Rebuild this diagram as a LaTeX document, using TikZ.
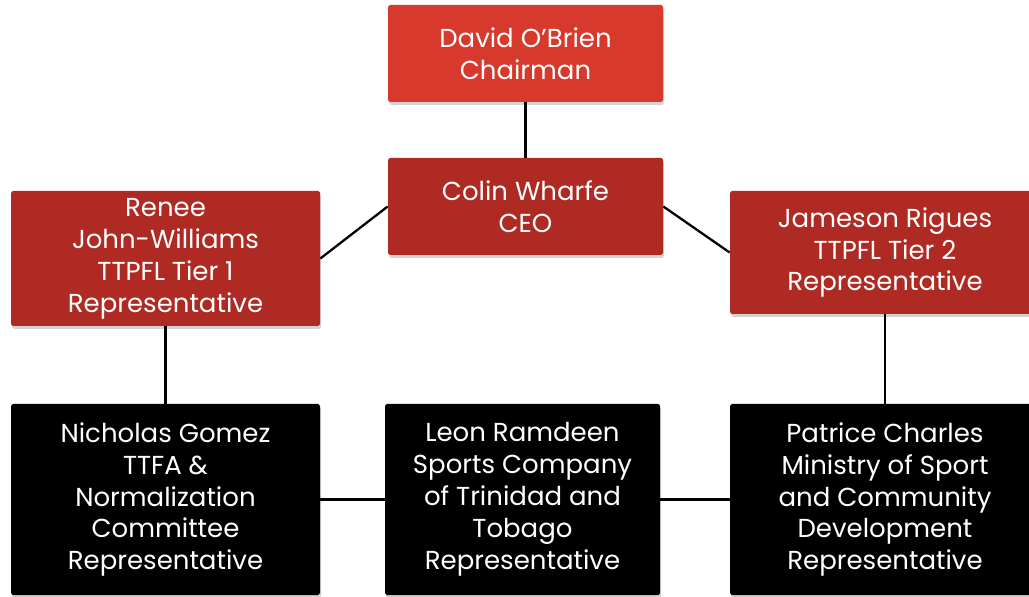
\documentclass[tikz,border=0pt]{standalone}
\usepackage{fontspec}
\setmainfont{Poppins}
\usetikzlibrary{shadows}
\definecolor{chairred}{HTML}{D73A2C}
\definecolor{darkred}{HTML}{AF2A22}
\begin{document}
\begin{tikzpicture}[
  card/.style={draw=none, rounded corners=1pt, text=white, align=center,
    inner sep=0pt, font=\fontsize{14.8}{18.2}\selectfont,
    drop shadow={opacity=0.35, shadow xshift=0.6pt, shadow yshift=-1.6pt}},
  chairbox/.style={card, fill=chairred},
  redbox/.style={card, fill=darkred},
  blackbox/.style={card, fill=black},
  link/.style={line width=1.3pt, black}
]
\useasboundingbox (0,0) rectangle (20.58,11.92);

\node[chairbox, minimum width=5.5cm, minimum height=1.94cm] (chair) at (10.51,10.85) {David O’Brien\\Chairman};
\node[redbox, minimum width=5.5cm, minimum height=1.94cm] (ceo) at (10.51,7.79) {Colin Wharfe\\CEO};
\node[redbox, minimum width=6.18cm, minimum height=2.70cm] (tier1) at (3.31,6.75) {Renee\\John-Williams\\TTPFL Tier 1\\Representative};
\node[redbox, minimum width=6.2cm, minimum height=2.46cm] (tier2) at (17.70,6.87) {Jameson Rigues\\TTPFL Tier 2\\Representative};

\node[blackbox, minimum width=6.18cm, minimum height=3.82cm] (ttfa) at (3.31,1.93) {Nicholas Gomez\\TTFA \&\\Normalization\\Committee\\Representative};
\node[blackbox, minimum width=5.5cm, minimum height=3.82cm] (sportco) at (10.45,1.93) {Leon Ramdeen\\Sports Company\\of Trinidad and\\Tobago\\Representative};
\node[blackbox, minimum width=6.2cm, minimum height=3.82cm] (ministry) at (17.70,1.93) {Patrice Charles\\Ministry of Sport\\and Community\\Development\\Representative};

\draw[link] (chair.south) -- (ceo.north);
\draw[link] (ceo.west) -- (tier1.east);
\draw[link] (ceo.east) -- (tier2.west);
\draw[link] (tier1.south) -- (ttfa.north);
\draw[link] (tier2.south) -- (ministry.north);
\draw[link] (ttfa.east) -- (sportco.west);
\draw[link] (sportco.east) -- (ministry.west);

\end{tikzpicture}
\end{document}
